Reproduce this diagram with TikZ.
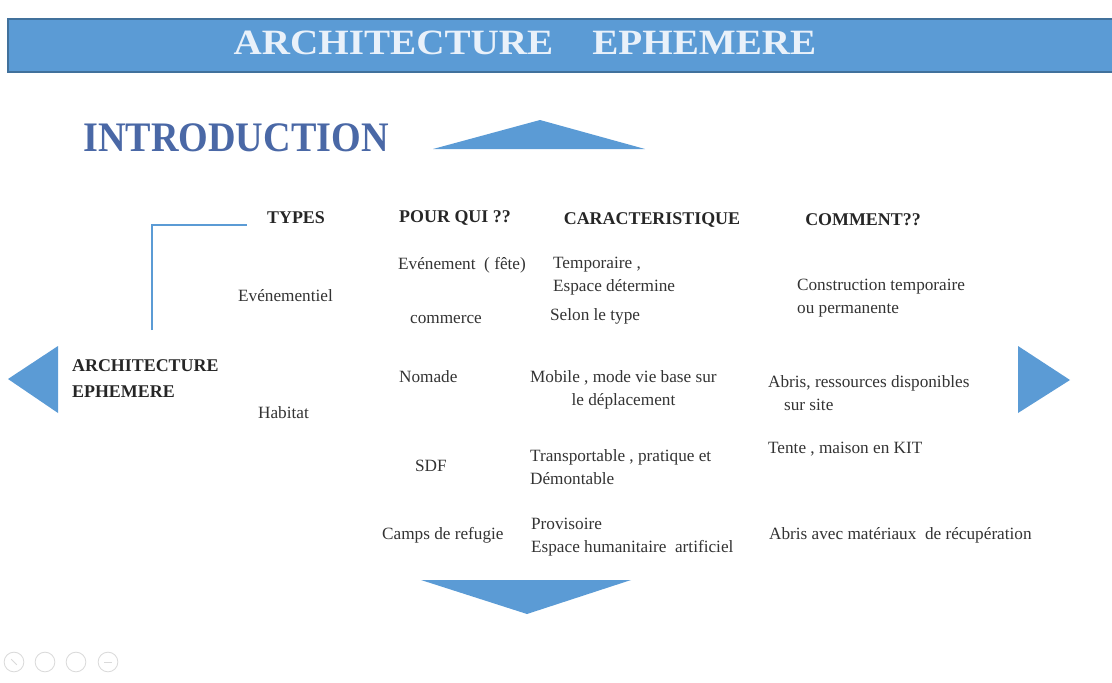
\documentclass[tikz,border=0pt]{standalone}
\usepackage{fontspec}
\setmainfont{Liberation Serif}
\usetikzlibrary{positioning}
\definecolor{slideblue}{HTML}{5B9BD5}
\definecolor{bannerline}{HTML}{41719C}
\definecolor{titlewhite}{HTML}{E9F1FA}
\definecolor{introblue}{HTML}{4A68A6}
\definecolor{bodytext}{HTML}{333333}
\definecolor{icongray}{HTML}{DADADA}

\begin{document}
\begin{tikzpicture}[
    x=0.05cm, y=-0.05cm,
    head/.style={font=\fontsize{25.5}{37}\selectfont\bfseries, text=black!85, inner sep=0pt},
    cell/.style={font=\fontsize{24.5}{33}\selectfont, text=bodytext, align=left,
                 anchor=west, inner sep=0pt},
    tri/.style={fill=slideblue, draw=none},
    bline/.style={draw=slideblue, line width=4pt},
    icon/.style={circle, draw=icongray, line width=1.2pt, minimum size=28pt, inner sep=0pt}
]
\useasboundingbox (0,0) rectangle (1112,682);

% banner
\draw[fill=slideblue, draw=bannerline, line width=3.5pt] (8,19) rectangle (1125,72);
\node[font=\fontsize{46}{48}\selectfont\bfseries, text=titlewhite] (title) at (525,43)
    {\scalebox{1.21}[1.1]{ARCHITECTURE\quad EPHEMERE}};

% introduction
\node[font=\fontsize{46}{48}\selectfont\bfseries, text=introblue] (intro) at (236,138)
    {\scalebox{1.18}[1.3]{INTRODUCTION}};
\fill[tri] (433,149) -- (540,120) -- (645,149) -- cycle;

% side and bottom arrows
\fill[tri] (8,379) -- (58,346) -- (58,413) -- cycle;
\fill[tri] (1018,346) -- (1070,380) -- (1018,413) -- cycle;
\fill[tri] (421,580) -- (631,580) -- (527,614) -- cycle;

% column heads
\node[head] (types) at (296,218) {TYPES};
\node[head] (pourqui) at (455,218) {POUR QUI ??};
\node[head] (carac) at (652,220) {CARACTERISTIQUE};
\node[head] (comment) at (863,220) {COMMENT??};
\node[head, align=left, anchor=west] (archi) at (72,379) {ARCHITECTURE\\EPHEMERE};

\coordinate (lnbot) at (152,330);
\coordinate (lntop) at (247,225);
\draw[bline] (lnbot) |- (lntop);

% types
\node[cell] (evt) at (238,296) {Evénementiel};
\node[cell] (hab) at (258,413) {Habitat};

% pour qui
\node[cell] (evn) at (398,265) {Evénement\ \ ( fête)};
\node[cell] (com) at (410,320) {commerce};
\node[cell] (nom) at (399,377) {Nomade};
\node[cell] (sdf) at (415,466) {SDF};
\node[cell] (camp) at (382,535) {Camps de refugie};

% caracteristique
\node[cell] (temp) at (553,276) {Temporaire ,\\Espace détermine};
\node[cell] (selon) at (550,316) {Selon le type};
\node[cell, align=center] (mob) at (530,390) {Mobile , mode vie base sur\\le déplacement};
\node[cell] (trans) at (530,467) {Transportable , pratique et\\Démontable};
\node[cell] (prov) at (531,537) {Provisoire\\Espace humanitaire\ \ artificiel};

% comment
\node[cell] (constr) at (797,298) {Construction temporaire\\ou permanente};
\node[cell] (abris) at (768,393) {Abris, ressources disponibles\\\hspace*{0.8cm}sur site};
\node[cell] (tente) at (768,449) {Tente , maison en KIT};
\node[cell] (recup) at (769,535) {Abris avec matériaux\ \ de récupération};

% slide controls
\foreach \i/\xx in {1/14, 2/45, 3/76, 4/108}
  \node[icon] (ic\i) at (\xx,662) {};
\draw[icongray, line width=1.2pt] ([shift={(-4pt,4pt)}]ic1.center) -- ([shift={(4pt,-4pt)}]ic1.center);
\draw[icongray, line width=1.2pt] ([xshift=-5pt]ic4.center) -- ([xshift=5pt]ic4.center);
\end{tikzpicture}
\end{document}
